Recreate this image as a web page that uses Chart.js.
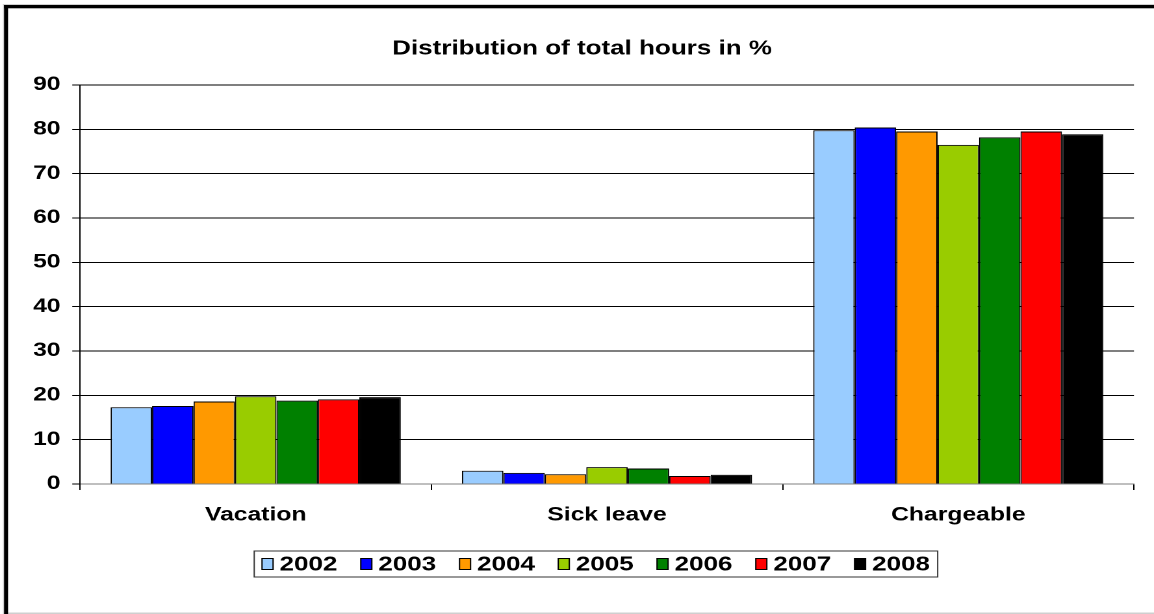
<!DOCTYPE html>
<html>
<head>
<meta charset="utf-8">
<script src="https://cdn.jsdelivr.net/npm/chart.js@4/dist/chart.umd.min.js"></script>
<style>
  html, body { margin: 0; padding: 0; background: #fff; overflow: hidden; }
  /* the chart is laid out on a narrower canvas and widened to the page */
  #wrap { position: absolute; left: 0; top: 0; width: 888px; height: 614px;
          transform: scaleX(1.2995); transform-origin: 0 0; }
</style>
</head>
<body>
<div id="wrap"><canvas id="chart"></canvas></div>
<script>
// ---- data ----
const categories = ['Vacation', 'Sick leave', 'Chargeable'];
const years = ['2002', '2003', '2004', '2005', '2006', '2007', '2008'];
const v2002 = [17.3, 3.0, 79.8];
const v2003 = [17.6, 2.5, 80.4];
const v2004 = [18.6, 2.2, 79.5];
const v2005 = [19.8, 3.8, 76.5];
const v2006 = [18.8, 3.5, 78.2];
const v2007 = [19.1, 1.8, 79.5];
const v2008 = [19.6, 2.1, 78.9];
const yTicks = [0, 10, 20, 30, 40, 50, 60, 70, 80, 90];
const titleText = 'Distribution of total hours in %';

const seriesValues = [v2002, v2003, v2004, v2005, v2006, v2007, v2008];
const seriesColors = ['#99CCFF', '#0000FF', '#FF9900', '#99CC00', '#008000', '#FF0000', '#000000'];

const FONT = '"Liberation Sans", Arial, sans-serif';

// frame around the whole chart: heavy left/top edge, faint bottom edge
const framePlugin = {
  id: 'frame',
  beforeDraw(chart) {
    const { ctx, width, height } = chart;
    ctx.save();
    ctx.fillStyle = '#fff';
    ctx.fillRect(0, 0, width, height);
    ctx.fillStyle = '#cfcfcf';
    ctx.fillRect(2.3, 4, width, 1);
    ctx.fillRect(2.3, 4, 0.8, height);
    ctx.fillRect(3, height - 1.5, width, 1.5);
    ctx.fillStyle = '#000';
    ctx.fillRect(3.1, 5, width, 3.3);
    ctx.fillRect(3.1, 5, 3.1, height);
    ctx.restore();
  }
};

// boxed single-row legend under the category labels
const boxLegendPlugin = {
  id: 'boxLegend',
  afterDraw(chart) {
    const { ctx } = chart;
    const boxW = 8.5, boxH = 11, gap = 5, spacing = 18, padX = 6, frameH = 26;
    ctx.save();
    ctx.font = 'bold 20px ' + FONT;
    const items = chart.data.datasets.map(ds => ({
      text: ds.label, color: ds.backgroundColor, w: ctx.measureText(ds.label).width
    }));
    const inner = items.reduce((s, it) => s + boxW + gap + it.w, 0) + spacing * (items.length - 1);
    const cx = 458.6;
    const cy = chart.chartArea.bottom + 80;
    const left = cx - inner / 2;
    ctx.strokeStyle = '#333';
    ctx.lineWidth = 1;
    ctx.strokeRect(left - padX, cy - frameH / 2, inner + 2 * padX, frameH);
    let x = left;
    ctx.textBaseline = 'middle';
    ctx.textAlign = 'left';
    items.forEach(it => {
      ctx.fillStyle = it.color;
      ctx.fillRect(x, cy - boxH / 2, boxW, boxH);
      ctx.strokeStyle = '#000';
      ctx.strokeRect(x, cy - boxH / 2, boxW, boxH);
      x += boxW + gap;
      ctx.fillStyle = '#000';
      ctx.fillText(it.text, x, cy + 1);
      x += it.w + spacing;
    });
    ctx.restore();
  }
};

new Chart(document.getElementById('chart'), {
  type: 'bar',
  data: {
    labels: categories,
    datasets: years.map((y, i) => ({
      label: y,
      data: seriesValues[i],
      backgroundColor: seriesColors[i],
      borderColor: '#000',
      borderWidth: 1,
      categoryPercentage: 0.826,
      barPercentage: 1.0
    }))
  },
  options: {
    responsive: true,
    maintainAspectRatio: false,
    animation: false,
    devicePixelRatio: 2,
    layout: { padding: { left: 23.2, right: 15.4, top: 0, bottom: 80 } },
    plugins: {
      legend: { display: false },
      tooltip: { enabled: false },
      title: {
        display: true,
        text: titleText,
        color: '#000',
        font: { family: FONT, size: 20, weight: 'bold' },
        padding: { top: 37, bottom: 24 }
      }
    },
    scales: {
      x: {
        grid: { offset: true, drawOnChartArea: false, drawTicks: true, tickLength: 6, color: '#000' },
        border: { color: '#808080', width: 1 },
        ticks: { color: '#000', font: { family: FONT, size: 19, weight: 'bold' }, padding: 14 },
        afterFit(scale) { scale.height = 50; }
      },
      y: {
        min: 0,
        max: 90,
        afterBuildTicks(scale) { scale.ticks = yTicks.map(v => ({ value: v })); },
        grid: { color: '#000', lineWidth: 1, tickLength: 6 },
        border: { color: '#000', width: 1 },
        ticks: { color: '#000', font: { family: FONT, size: 19, weight: 'bold' }, padding: 9 },
        afterFit(scale) { scale.width = 38.4; }
      }
    }
  },
  plugins: [framePlugin, boxLegendPlugin]
});
</script>
</body>
</html>
